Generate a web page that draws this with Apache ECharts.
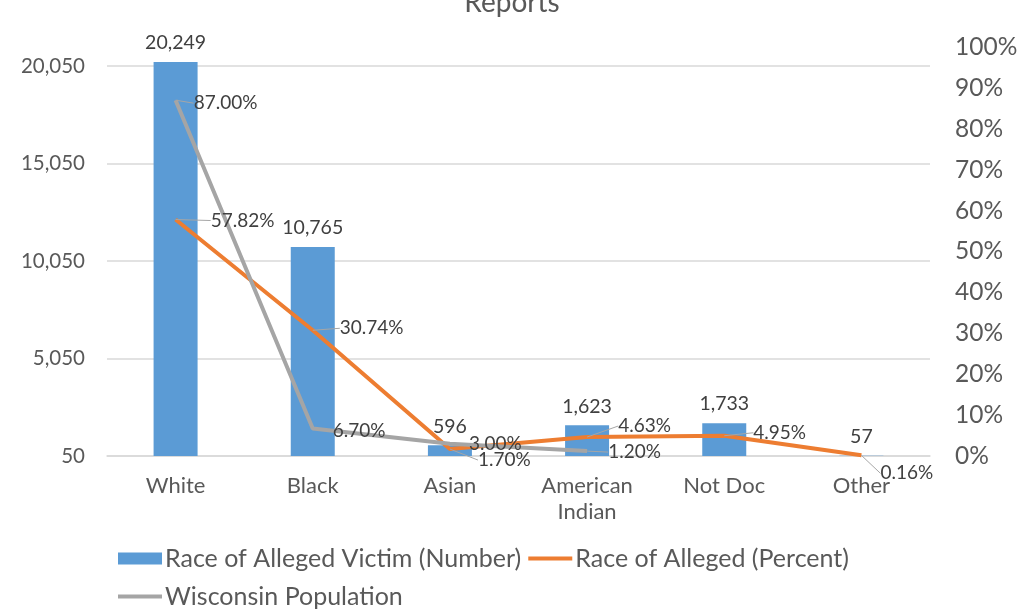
<!DOCTYPE html>
<html>
<head>
<meta charset="utf-8">
<script src="https://cdn.jsdelivr.net/npm/echarts@6/dist/echarts.min.js"></script>
<style>
  html, body { margin: 0; padding: 0; background: #fff; }
  #chart { width: 1024px; height: 610px; }
</style>
</head>
<body>
<div id="chart"></div>
<script>
const categories = ['White', 'Black', 'Asian', 'American\nIndian', 'Not Doc', 'Other']
const victimCounts = [20249, 10765, 596, 1623, 1733, 57]
const allegedPercent = [0.5782, 0.3074, 0.017, 0.0463, 0.0495, 0.0016]
const wisconsinPercent = [0.87, 0.067, 0.03, 0.012, null, null]

const seriesNames = ['Race of Alleged Victim (Number)', 'Race of Alleged (Percent)', 'Wisconsin Population']

// label nudges, Excel-style leader lines
const percentLabelShift = [[30, 1], [22, -2], [23, 11], [26, -11], [24, -3], [14, 18]]
const wisconsinLabelShift = [[13, 3], [15, 2], [14, 0], [16, 1]]

const FONT = 'Lato, "Open Sans", sans-serif'
const TEXT = '#595959'
const LINE_ICON = 'path://M0,0 H44 V4 H0 Z'

const chart = echarts.init(document.getElementById('chart'))

const fmtPct = (v) => (v * 100).toFixed(2) + '%'

const shifted = (shifts) => (params) => {
  const s = shifts[params.dataIndex] || [0, 0]
  return { dx: s[0], dy: s[1] }
}

const lineLabel = {
  show: true,
  position: 'right',
  distance: 5,
  fontFamily: FONT,
  fontSize: 19,
  color: '#404040',
  formatter: (p) => fmtPct(p.value)
}

chart.setOption({
  animation: false,
  textStyle: { fontFamily: FONT },
  title: {
    text: 'Reports',
    left: 'center',
    top: -16,
    textStyle: { fontFamily: FONT, fontSize: 28, fontWeight: 'normal', color: TEXT }
  },
  grid: { left: 107, right: 94, top: 47, bottom: 154 },
  legend: [
    {
      data: [
        { name: seriesNames[0], icon: 'rect' },
        { name: seriesNames[1], icon: LINE_ICON }
      ],
      left: 118,
      top: 546,
      padding: 0,
      itemWidth: 44,
      itemHeight: 12,
      itemGap: 7,
      textStyle: { fontFamily: FONT, fontSize: 25, color: TEXT, padding: [0, 0, 0, -2] }
    },
    {
      data: [{ name: seriesNames[2], icon: LINE_ICON }],
      left: 118,
      top: 584,
      padding: 0,
      itemWidth: 44,
      itemHeight: 12,
      textStyle: { fontFamily: FONT, fontSize: 25, color: TEXT, padding: [0, 0, 0, -2] }
    }
  ],
  xAxis: {
    type: 'category',
    data: categories,
    axisLine: { lineStyle: { color: '#D9D9D9', width: 1.5 } },
    axisTick: { show: false },
    axisLabel: { fontFamily: FONT, fontSize: 22, color: TEXT, margin: 17, lineHeight: 26 }
  },
  yAxis: [
    {
      type: 'value',
      min: 50,
      max: 21024,
      interval: 5000,
      axisLine: { show: false },
      axisTick: { show: false },
      axisLabel: {
        fontFamily: FONT, fontSize: 20.5, color: TEXT, margin: 22,
        showMaxLabel: false,
        formatter: (v) => v.toLocaleString('en-US')
      },
      splitLine: { showMaxLine: false, lineStyle: { color: '#D9D9D9', width: 1.5 } }
    },
    {
      type: 'value',
      min: 0,
      max: 1,
      interval: 0.1,
      position: 'right',
      axisLine: { show: false },
      axisTick: { show: false },
      splitLine: { show: false },
      axisLabel: {
        fontFamily: FONT, fontSize: 24.5, color: TEXT, margin: 25,
        formatter: (v) => Math.round(v * 100) + '%'
      }
    }
  ],
  series: [
    {
      name: seriesNames[0],
      type: 'bar',
      data: victimCounts,
      barWidth: 44,
      itemStyle: { color: '#5B9BD5' },
      label: {
        show: true,
        position: 'top',
        distance: 9,
        fontFamily: FONT,
        fontSize: 19.5,
        color: '#404040',
        formatter: (p) => p.value.toLocaleString('en-US')
      }
    },
    {
      name: seriesNames[1],
      type: 'line',
      yAxisIndex: 1,
      data: allegedPercent,
      symbol: 'circle',
      symbolSize: 0.1,
      lineStyle: { color: '#ED7D31', width: 4 },
      itemStyle: { color: '#ED7D31' },
      label: lineLabel,
      labelLine: { show: true, lineStyle: { color: '#A6A6A6', width: 1 } },
      labelLayout: shifted(percentLabelShift)
    },
    {
      name: seriesNames[2],
      type: 'line',
      yAxisIndex: 1,
      data: wisconsinPercent,
      symbol: 'circle',
      symbolSize: 0.1,
      lineStyle: { color: '#A5A5A5', width: 4 },
      itemStyle: { color: '#A5A5A5' },
      label: lineLabel,
      labelLine: { show: true, lineStyle: { color: '#A6A6A6', width: 1 } },
      labelLayout: shifted(wisconsinLabelShift)
    }
  ]
})
</script>
</body>
</html>
